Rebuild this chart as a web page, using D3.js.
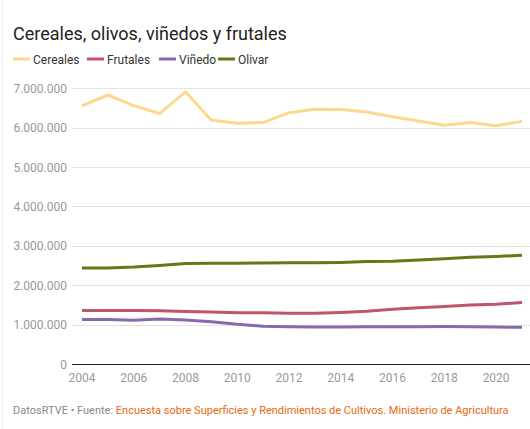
<!DOCTYPE html>
<html><head><meta charset="utf-8">
<script src="https://cdn.jsdelivr.net/npm/d3@7"></script>
<style>
body{margin:0;background:#fff;font-family:Roboto,sans-serif;}
svg{display:block}
</style></head><body>
<script>
const years = [2004,2005,2006,2007,2008,2009,2010,2011,2012,2013,2014,2015,2016,2017,2018,2019,2020,2021];
const cereales = [6557000,6830000,6560000,6360000,6910000,6190000,6110000,6130000,6380000,6470000,6460000,6400000,6280000,6170000,6060000,6130000,6050000,6160000];
const frutales = [1360000,1360000,1360000,1350000,1330000,1320000,1300000,1300000,1290000,1290000,1310000,1340000,1390000,1430000,1460000,1500000,1520000,1560000];
const vinedo = [1130000,1130000,1110000,1140000,1120000,1075000,1010000,960000,945000,940000,940000,945000,945000,945000,950000,945000,940000,930000];
const olivar = [2440000,2440000,2460000,2500000,2550000,2560000,2560000,2565000,2570000,2570000,2580000,2600000,2610000,2640000,2670000,2710000,2730000,2760000];
const seriesNames = ["Cereales","Frutales","Viñedo","Olivar"];
const seriesColors = ["#fdd98f","#c0546a","#8769ae","#6c7416"];
const yTicks = [0,1000000,2000000,3000000,4000000,5000000,6000000,7000000];
const xTicks = [2004,2006,2008,2010,2012,2014,2016,2018,2020];

const W=530,H=429;
const svg=d3.select("body").append("svg").attr("width",W).attr("height",H);
svg.append("line").attr("x1",2.5).attr("x2",2.5).attr("y1",0).attr("y2",H).attr("stroke","#eeeeee").attr("stroke-width",1);

svg.append("text").attr("x",13).attr("y",40).attr("font-size",18).attr("fill","#222").text("Cereales, olivos, viñedos y frutales");

const legX=[13,87,159,218];
seriesNames.forEach((n,i)=>{
  const g=svg.append("g").attr("transform",`translate(${legX[i]},59)`);
  g.append("line").attr("x1",0).attr("x2",17).attr("y1",0).attr("y2",0).attr("stroke",seriesColors[i]).attr("stroke-width",3);
  g.append("text").attr("x",20).attr("y",4.5).attr("font-size",12).attr("fill","#333").text(n);
});

const x=d3.scaleLinear().domain([2004,2021]).range([82,522]);
const y=d3.scaleLinear().domain([0,7000000]).range([364,88.3]);
const fmt=v=>d3.format(",")(v).replace(/,/g,".");

const gy=svg.append("g");
yTicks.forEach(t=>{
  if(t>0) gy.append("line").attr("x1",72).attr("x2",530).attr("y1",Math.round(y(t))+0.5).attr("y2",Math.round(y(t))+0.5).attr("stroke","#e3e3e3");
  gy.append("text").attr("x",67).attr("y",y(t)+4.5).attr("text-anchor","end").attr("font-size",12).attr("fill","#999").text(fmt(t));
});
svg.append("line").attr("x1",72).attr("x2",530).attr("y1",364.5).attr("y2",364.5).attr("stroke","#222").attr("stroke-width",1);
xTicks.forEach(t=>{
  svg.append("text").attr("x",x(t)).attr("y",382).attr("text-anchor","middle").attr("font-size",12).attr("fill","#999").text(t);
});

const data=[cereales,frutales,vinedo,olivar];
const line=d3.line().x((d,i)=>x(years[i])).y(d=>y(d)).curve(d3.curveLinear);
[0,3,1,2].forEach(i=>{
  svg.append("path").attr("d",line(data[i])).attr("fill","none").attr("stroke",seriesColors[i]).attr("stroke-width",3).attr("stroke-linejoin","round");
});

const f=svg.append("text").attr("x",13).attr("y",414).attr("font-size",11);
f.append("tspan").attr("fill","#888").text("DatosRTVE • Fuente: ");
f.append("tspan").attr("fill","#e8690f").text("Encuesta sobre Superficies y Rendimientos de Cultivos. Ministerio de Agricultura");
</script>
</body></html>
